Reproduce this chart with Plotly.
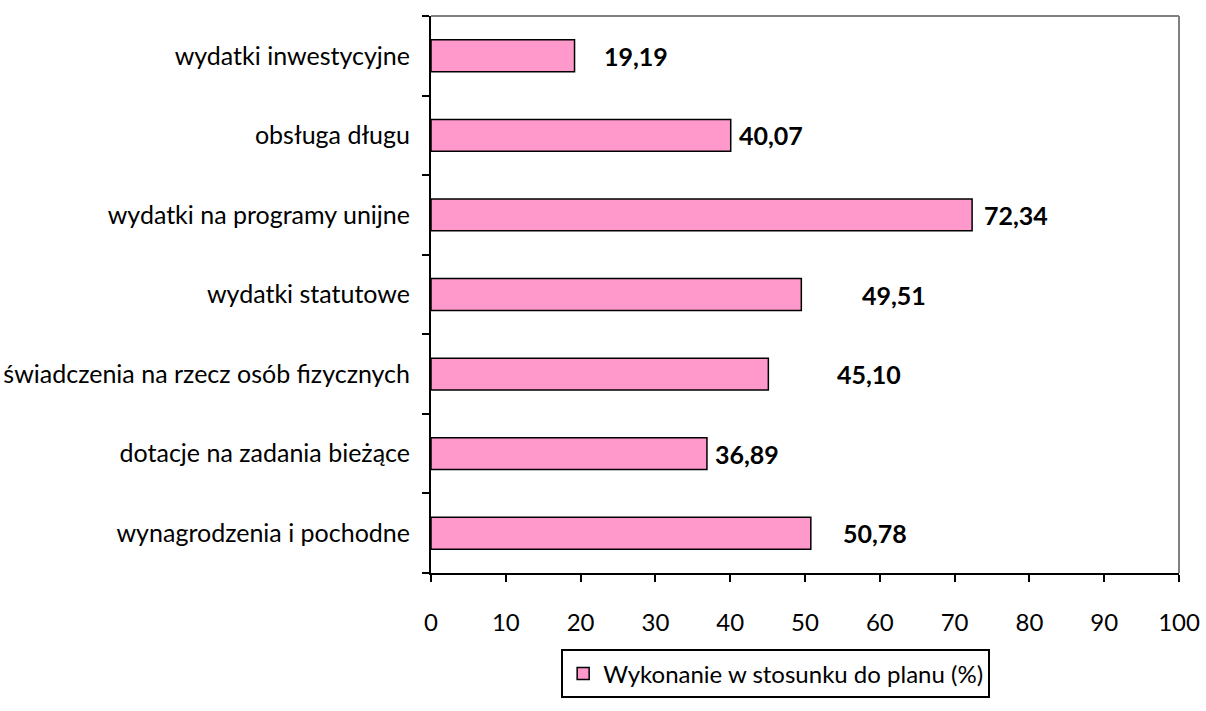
import plotly.graph_objects as go

categories = [
    "wynagrodzenia i pochodne",
    "dotacje na zadania bieżące",
    "świadczenia na rzecz osób fizycznych",
    "wydatki statutowe",
    "wydatki na programy unijne",
    "obsługa długu",
    "wydatki inwestycyjne",
]
values = [50.78, 36.89, 45.10, 49.51, 72.34, 40.07, 19.19]
value_labels = ["50,78", "36,89", "45,10", "49,51", "72,34", "40,07", "19,19"]
label_gaps = [30, 6, 67, 59, 10, 6, 27]
series_name = "Wykonanie w stosunku do planu (%)"
x_ticks = [0, 10, 20, 30, 40, 50, 60, 70, 80, 90, 100]

FONT = "Lato, Carlito, 'Open Sans', sans-serif"

fig = go.Figure()
fig.add_trace(go.Bar(
    y=categories, x=values, orientation="h", name=series_name,
    marker=dict(color="#FF99CC", line=dict(color="black", width=1.5)),
    width=0.4, showlegend=True,
))

for c, v, t, g in zip(categories, values, value_labels, label_gaps):
    fig.add_annotation(x=v, y=c, xref="x", yref="y", text="<b>" + t + "</b>",
                       showarrow=False, xanchor="left", xshift=g,
                       font=dict(family=FONT, size=25, color="black"))

# plot area top/right border (gray)
fig.add_shape(type="line", xref="paper", yref="paper", x0=0, x1=1, y0=1, y1=1,
              line=dict(color="#808080", width=2))
fig.add_shape(type="line", xref="paper", yref="paper", x0=1, x1=1, y0=0, y1=1,
              line=dict(color="#808080", width=2))

fig.update_layout(
    width=1206, height=711,
    margin=dict(l=431, r=27, t=16, b=138),
    paper_bgcolor="white", plot_bgcolor="white",
    font=dict(family=FONT, size=25, color="black"),
    bargap=0.6,
    xaxis=dict(range=[0, 100], tickvals=x_ticks, ticks="outside", ticklen=7,
               tickwidth=2, tickcolor="black", showline=True, linecolor="black",
               linewidth=2, showgrid=False, zeroline=False, automargin=False,
               ticklabelstandoff=20, tickfont=dict(size=24)),
    yaxis=dict(categoryorder="array", categoryarray=categories,
               ticks="outside", tickson="boundaries", ticklen=7, tickwidth=2,
               tickcolor="black", showline=True, linecolor="black", linewidth=2,
               showgrid=False, zeroline=False, automargin=False,
               ticklabelstandoff=14, tickfont=dict(size=25)),
    legend=dict(orientation="h", x=0.174, xanchor="left", y=-0.225,
                yanchor="bottom", bordercolor="black", borderwidth=2,
                bgcolor="white", font=dict(size=24),
                itemwidth=30),
)

fig.write_html(
    "out.html",
    config={"displayModeBar": False},
    post_script="document.body.style.margin='0';document.body.style.overflow='hidden';",
)
